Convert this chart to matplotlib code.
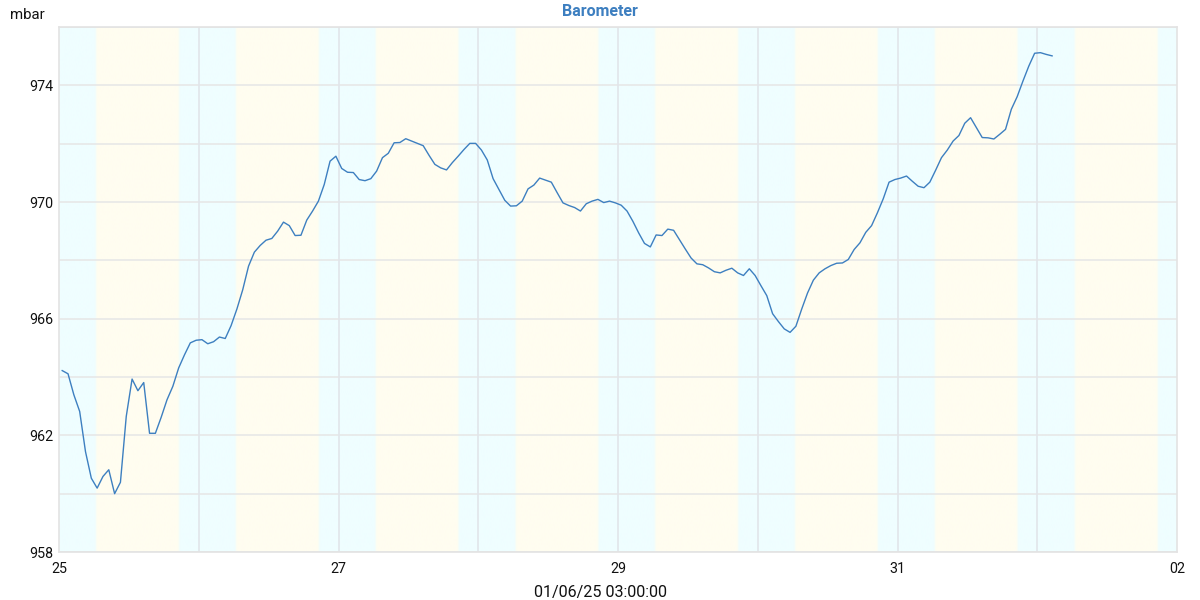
import numpy as np
import pandas as pd
import matplotlib
matplotlib.use("Agg")
import matplotlib.pyplot as plt
import matplotlib.dates as mdates
from matplotlib.colors import to_rgb

plt.rcParams['font.family'] = ['Roboto', 'DejaVu Sans']

# ---------------- data ----------------
title = "Barometer"
unit_label = "mbar"
x_label = "01/06/25 03:00:00"
first_sample = "2025-01-25 00:33"   # hourly readings
pressure = [
    964.22, 964.11, 963.39, 962.82, 961.44, 960.53, 960.19, 960.59, 960.82, 960.00,
    960.39, 962.65, 963.93, 963.53, 963.81, 962.07, 962.07, 962.62, 963.22, 963.68,
    964.31, 964.76, 965.17, 965.26, 965.28, 965.14, 965.21, 965.37, 965.32, 965.76,
    966.33, 966.99, 967.80, 968.28, 968.51, 968.69, 968.75, 969.00, 969.31, 969.19,
    968.85, 968.86, 969.38, 969.69, 970.03, 970.60, 971.40, 971.57, 971.15, 971.02,
    971.01, 970.77, 970.73, 970.80, 971.06, 971.52, 971.67, 972.03, 972.04, 972.17,
    972.09, 972.01, 971.93, 971.60, 971.29, 971.17, 971.10, 971.35, 971.57, 971.80,
    972.01, 972.01, 971.78, 971.44, 970.80, 970.43, 970.06, 969.86, 969.87, 970.03,
    970.45, 970.58, 970.82, 970.75, 970.68, 970.32, 969.97, 969.88, 969.81, 969.69,
    969.94, 970.03, 970.09, 969.98, 970.03, 969.97, 969.89, 969.69, 969.34, 968.94,
    968.58, 968.46, 968.87, 968.85, 969.07, 969.03, 968.71, 968.39, 968.08, 967.88,
    967.85, 967.74, 967.61, 967.57, 967.66, 967.73, 967.57, 967.48, 967.71, 967.48,
    967.13, 966.79, 966.17, 965.90, 965.65, 965.53, 965.74, 966.33, 966.88, 967.32,
    967.57, 967.71, 967.82, 967.90, 967.91, 968.03, 968.37, 968.60, 968.96, 969.19,
    969.63, 970.11, 970.68, 970.77, 970.82, 970.89, 970.71, 970.54, 970.49, 970.68,
    971.09, 971.52, 971.78, 972.09, 972.28, 972.70, 972.89, 972.55, 972.21, 972.20,
    972.16, 972.32, 972.49, 973.18, 973.61, 974.15, 974.66, 975.10, 975.12, 975.06,
    975.01,
]
days = ["2025-01-25", "2025-01-26", "2025-01-27", "2025-01-28",
        "2025-01-29", "2025-01-30", "2025-01-31", "2025-02-01", "2025-02-02"]
sunrise_h = [6.35, 6.37, 6.40, 6.42, 6.38, 6.42, 6.43, 6.47]
sunset_h = [20.60, 20.62, 20.60, 20.62, 20.62, 20.62, 20.62, 20.72]
x_ticks = ["2025-01-25", "2025-01-27", "2025-01-29", "2025-01-31", "2025-02-02"]
y_ticks = [958, 962, 966, 970, 974]
y_grid = [960, 964, 968, 972, 976]
y_range = (958, 976)

# ---------------- figure ----------------
fig = plt.figure(figsize=(12, 6), dpi=100)
ax = fig.add_axes([59 / 1200, 1 - 552 / 600, (1177 - 59) / 1200, (552 - 27) / 600])

times = pd.date_range(first_sample, periods=len(pressure), freq="h")
day_ts = pd.to_datetime(days)
x0 = mdates.date2num(day_ts[0])
x1 = mdates.date2num(day_ts[-1])

# day / night background with soft transitions
night_c = np.array(to_rgb("#effeff"))
day_c = np.array(to_rgb("#fffdf0"))
mins = np.arange(0, int((x1 - x0) * 1440) + 1, 2)
didx = np.clip(mins // 1440, 0, len(sunrise_h) - 1)
hrs = (mins - (mins // 1440) * 1440) / 60.0
ramp = 0.35
sr = np.array(sunrise_h)[didx]
ss = np.array(sunset_h)[didx]
w = np.minimum(np.clip((hrs - sr) / ramp + 0.5, 0, 1), np.clip((ss - hrs) / ramp + 0.5, 0, 1))
row = night_c[None, :] * (1 - w[:, None]) + day_c[None, :] * w[:, None]
ax.imshow(row[None, :, :], extent=[x0, x1, y_range[0], y_range[1]], aspect="auto",
          interpolation="bilinear", zorder=0)

# grid
for g in y_grid + y_ticks:
    ax.axhline(g, color="#e6e6e6", lw=1.1, zorder=1)
for d in day_ts[1:-1]:
    ax.axvline(mdates.date2num(d), color="#e1e5ea", lw=1.2, zorder=1)

ax.plot(times, pressure, color="#3d7fc0", lw=1.0, zorder=3)

ax.set_xlim(x0, x1)
ax.set_ylim(*y_range)
ax.set_xticks([mdates.date2num(pd.Timestamp(t)) for t in x_ticks])
ax.xaxis.set_major_formatter(mdates.DateFormatter("%d"))
ax.set_yticks(y_ticks)
ax.set_yticklabels([str(v) for v in y_ticks])
ax.tick_params(axis="both", length=0, labelsize=10.3, colors="#111111")
ax.tick_params(axis="x", pad=7)
ax.tick_params(axis="y", pad=4)
for s in ax.spines.values():
    s.set_color("#e3e3e3")
    s.set_linewidth(1.2)

fig.text(0.5, 1 - 12 / 600, title, ha="center", va="center",
         fontsize=11.5, fontweight="bold", color="#3d7fc0")
fig.text(10 / 1200, 1 - 15 / 600, unit_label, ha="left", va="center",
         fontsize=10.8, color="#111111")
fig.text(0.5, 1 - 592 / 600, x_label, ha="center", va="center",
         fontsize=11.6, color="#111111")

fig.savefig("out.png", dpi=100)
